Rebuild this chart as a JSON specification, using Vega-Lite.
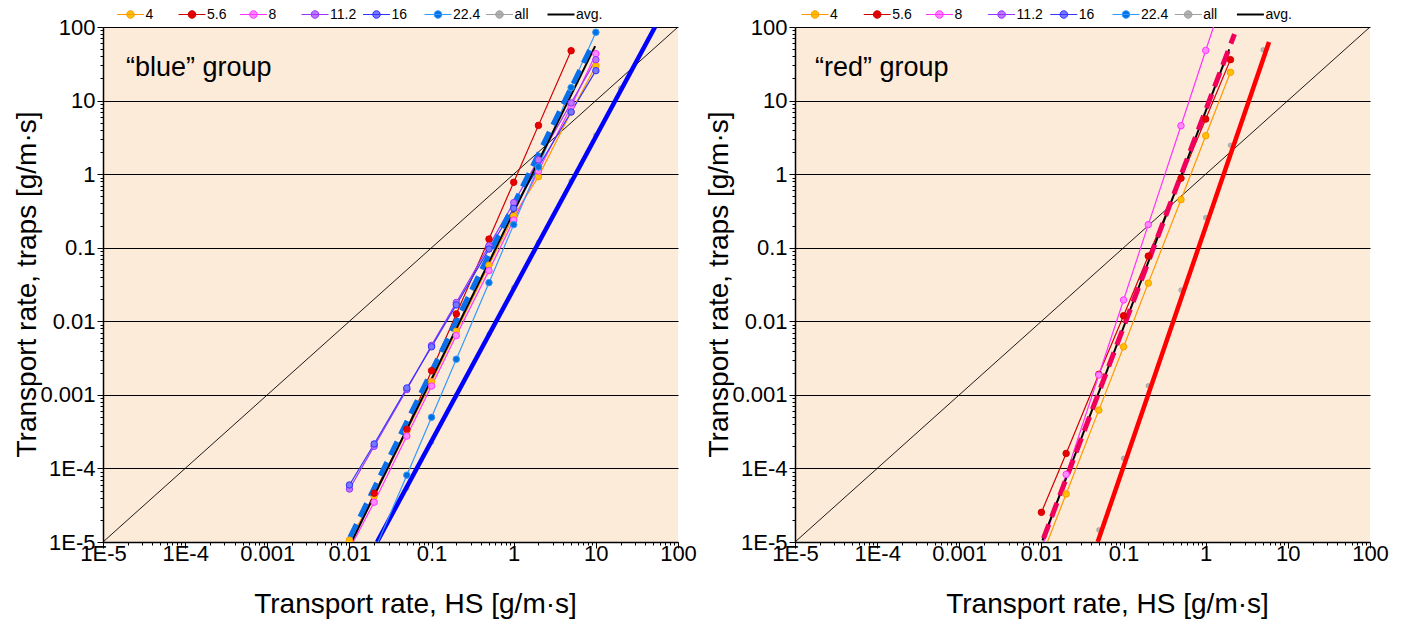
{
  "$schema": "https://vega.github.io/schema/vega-lite/v6.json",
  "padding": {"left": 12, "top": 7, "right": 5, "bottom": 5},
  "bounds": "flush",
  "spacing": 117,
  "background": "white",
  "config": {
    "view": {"fill": "#FDEBDA", "stroke": null},
    "axis": {
      "labelFont": "Liberation Sans", "labelFontSize": 22, "labelColor": "black",
      "titleFont": "Liberation Sans", "titleFontSize": 28, "titleFontWeight": "normal", "titleColor": "black",
      "domainColor": "black", "domainWidth": 1.5, "tickColor": "black", "tickWidth": 1,
      "labelOverlap": false, "labelFlush": false
    },
    "legend": {"labelFont": "Liberation Sans", "labelFontSize": 14, "labelColor": "black"}
  },
  "datasets": {
    "pts": [
      {"panel":"L","kind":"diag","series":"d","x":0.00001,"y":0.00001},
      {"panel":"L","kind":"diag","series":"d","x":100,"y":100},
      {"panel":"R","kind":"diag","series":"d","x":0.00001,"y":0.00001},
      {"panel":"R","kind":"diag","series":"d","x":100,"y":100},

      {"panel":"L","kind":"s","series":"4","x":0.01,"y":0.0000106},
      {"panel":"L","kind":"s","series":"4","x":0.02,"y":0.000042},
      {"panel":"L","kind":"s","series":"4","x":0.05,"y":0.00032},
      {"panel":"L","kind":"s","series":"4","x":0.1,"y":0.00151},
      {"panel":"L","kind":"s","series":"4","x":0.2,"y":0.0073},
      {"panel":"L","kind":"s","series":"4","x":0.5,"y":0.058},
      {"panel":"L","kind":"s","series":"4","x":1,"y":0.27},
      {"panel":"L","kind":"s","series":"4","x":2,"y":0.925},
      {"panel":"L","kind":"s","series":"4","x":5,"y":7.0},
      {"panel":"L","kind":"s","series":"4","x":10,"y":29.8},

      {"panel":"L","kind":"s","series":"5.6","x":0.01,"y":0.0000085},
      {"panel":"L","kind":"s","series":"5.6","x":0.02,"y":0.000046},
      {"panel":"L","kind":"s","series":"5.6","x":0.05,"y":0.00034},
      {"panel":"L","kind":"s","series":"5.6","x":0.1,"y":0.00213},
      {"panel":"L","kind":"s","series":"5.6","x":0.2,"y":0.0126},
      {"panel":"L","kind":"s","series":"5.6","x":0.5,"y":0.131},
      {"panel":"L","kind":"s","series":"5.6","x":1,"y":0.775},
      {"panel":"L","kind":"s","series":"5.6","x":2,"y":4.6},
      {"panel":"L","kind":"s","series":"5.6","x":5,"y":47.6},

      {"panel":"L","kind":"s","series":"8","x":0.01,"y":0.000008},
      {"panel":"L","kind":"s","series":"8","x":0.02,"y":0.0000347},
      {"panel":"L","kind":"s","series":"8","x":0.05,"y":0.000275},
      {"panel":"L","kind":"s","series":"8","x":0.1,"y":0.00132},
      {"panel":"L","kind":"s","series":"8","x":0.2,"y":0.0064},
      {"panel":"L","kind":"s","series":"8","x":0.5,"y":0.0488},
      {"panel":"L","kind":"s","series":"8","x":1,"y":0.238},
      {"panel":"L","kind":"s","series":"8","x":2,"y":1.1},
      {"panel":"L","kind":"s","series":"8","x":5,"y":8.3},
      {"panel":"L","kind":"s","series":"8","x":10,"y":43.4},

      {"panel":"L","kind":"s","series":"11.2","x":0.01,"y":0.0000525},
      {"panel":"L","kind":"s","series":"11.2","x":0.02,"y":0.0002},
      {"panel":"L","kind":"s","series":"11.2","x":0.05,"y":0.00118},
      {"panel":"L","kind":"s","series":"11.2","x":0.1,"y":0.0047},
      {"panel":"L","kind":"s","series":"11.2","x":0.2,"y":0.018},
      {"panel":"L","kind":"s","series":"11.2","x":0.5,"y":0.106},
      {"panel":"L","kind":"s","series":"11.2","x":1,"y":0.41},
      {"panel":"L","kind":"s","series":"11.2","x":2,"y":1.57},
      {"panel":"L","kind":"s","series":"11.2","x":5,"y":9.27},
      {"panel":"L","kind":"s","series":"11.2","x":10,"y":36},

      {"panel":"L","kind":"s","series":"16","x":0.01,"y":0.0000596},
      {"panel":"L","kind":"s","series":"16","x":0.02,"y":0.000215},
      {"panel":"L","kind":"s","series":"16","x":0.05,"y":0.00124},
      {"panel":"L","kind":"s","series":"16","x":0.1,"y":0.0045},
      {"panel":"L","kind":"s","series":"16","x":0.2,"y":0.0167},
      {"panel":"L","kind":"s","series":"16","x":0.5,"y":0.096},
      {"panel":"L","kind":"s","series":"16","x":1,"y":0.343},
      {"panel":"L","kind":"s","series":"16","x":2,"y":1.26},
      {"panel":"L","kind":"s","series":"16","x":5,"y":7.0},
      {"panel":"L","kind":"s","series":"16","x":10,"y":25.5},

      {"panel":"L","kind":"s","series":"22.4","x":0.02,"y":0.0000075},
      {"panel":"L","kind":"s","series":"22.4","x":0.05,"y":0.000081},
      {"panel":"L","kind":"s","series":"22.4","x":0.1,"y":0.000495},
      {"panel":"L","kind":"s","series":"22.4","x":0.2,"y":0.00305},
      {"panel":"L","kind":"s","series":"22.4","x":0.5,"y":0.0335},
      {"panel":"L","kind":"s","series":"22.4","x":1,"y":0.206},
      {"panel":"L","kind":"s","series":"22.4","x":2,"y":1.26},
      {"panel":"L","kind":"s","series":"22.4","x":5,"y":15},
      {"panel":"L","kind":"s","series":"22.4","x":10,"y":84.7},

      {"panel":"L","kind":"all","series":"all","x":0.05,"y":0.000054},
      {"panel":"L","kind":"all","series":"all","x":0.1,"y":0.000227},
      {"panel":"L","kind":"all","series":"all","x":0.2,"y":0.00098},
      {"panel":"L","kind":"all","series":"all","x":0.5,"y":0.0067},
      {"panel":"L","kind":"all","series":"all","x":1,"y":0.0286},
      {"panel":"L","kind":"all","series":"all","x":2,"y":0.118},
      {"panel":"L","kind":"all","series":"all","x":5,"y":0.81},
      {"panel":"L","kind":"all","series":"all","x":10,"y":3.4},
      {"panel":"L","kind":"all","series":"all","x":20,"y":14.7},

      {"panel":"L","kind":"fit","series":"fit","x":0.0217,"y":0.00001},
      {"panel":"L","kind":"fit","series":"fit","x":52.5,"y":100},
      {"panel":"L","kind":"dash","series":"dash","x":0.0101,"y":0.0000115},
      {"panel":"L","kind":"dash","series":"dash","x":8.4,"y":48.6},
      {"panel":"L","kind":"avg","series":"avg.","x":0.0108,"y":0.0000105},
      {"panel":"L","kind":"avg","series":"avg.","x":9.8,"y":55},

      {"panel":"R","kind":"s","series":"4","x":0.01,"y":0.0000062},
      {"panel":"R","kind":"s","series":"4","x":0.02,"y":0.000045},
      {"panel":"R","kind":"s","series":"4","x":0.05,"y":0.00062},
      {"panel":"R","kind":"s","series":"4","x":0.1,"y":0.0045},
      {"panel":"R","kind":"s","series":"4","x":0.2,"y":0.033},
      {"panel":"R","kind":"s","series":"4","x":0.5,"y":0.45},
      {"panel":"R","kind":"s","series":"4","x":1,"y":3.33},
      {"panel":"R","kind":"s","series":"4","x":2,"y":24.2},

      {"panel":"R","kind":"s","series":"5.6","x":0.01,"y":0.0000253},
      {"panel":"R","kind":"s","series":"5.6","x":0.02,"y":0.00016},
      {"panel":"R","kind":"s","series":"5.6","x":0.05,"y":0.0019},
      {"panel":"R","kind":"s","series":"5.6","x":0.1,"y":0.0119},
      {"panel":"R","kind":"s","series":"5.6","x":0.2,"y":0.077},
      {"panel":"R","kind":"s","series":"5.6","x":0.5,"y":0.88},
      {"panel":"R","kind":"s","series":"5.6","x":1,"y":5.6},
      {"panel":"R","kind":"s","series":"5.6","x":2,"y":36},

      {"panel":"R","kind":"s","series":"8","x":0.01,"y":0.000008},
      {"panel":"R","kind":"s","series":"8","x":0.02,"y":0.000083},
      {"panel":"R","kind":"s","series":"8","x":0.05,"y":0.00186},
      {"panel":"R","kind":"s","series":"8","x":0.1,"y":0.0195},
      {"panel":"R","kind":"s","series":"8","x":0.2,"y":0.206},
      {"panel":"R","kind":"s","series":"8","x":0.5,"y":4.55},
      {"panel":"R","kind":"s","series":"8","x":1,"y":48},
      {"panel":"R","kind":"s","series":"8","x":2,"y":500},

      {"panel":"R","kind":"all","series":"all","x":0.05,"y":0.0000146},
      {"panel":"R","kind":"all","series":"all","x":0.1,"y":0.000137},
      {"panel":"R","kind":"all","series":"all","x":0.2,"y":0.00133},
      {"panel":"R","kind":"all","series":"all","x":0.5,"y":0.0266},
      {"panel":"R","kind":"all","series":"all","x":1,"y":0.256},
      {"panel":"R","kind":"all","series":"all","x":2,"y":2.47},
      {"panel":"R","kind":"all","series":"all","x":5,"y":49},

      {"panel":"R","kind":"fit","series":"fit","x":0.0484,"y":0.00001},
      {"panel":"R","kind":"fit","series":"fit","x":5.9,"y":62.5},
      {"panel":"R","kind":"dash","series":"dash","x":0.0106,"y":0.0000112},
      {"panel":"R","kind":"dash","series":"dash","x":2.24,"y":80},
      {"panel":"R","kind":"avg","series":"avg.","x":0.0103,"y":0.0000105},
      {"panel":"R","kind":"avg","series":"avg.","x":1.93,"y":49.7}
    ],
    "notes": [
      {"panel":"L","x":0.000019,"y":27.7,"text":"“blue” group"},
      {"panel":"R","x":0.0000175,"y":27.7,"text":"“red” group"}
    ]
  },
  "resolve": {"legend": {"stroke": "independent", "fill": "independent"}},
  "hconcat": [
    {
      "width": 575, "height": 515,
      "data": {"name": "pts"},
      "encoding": {
        "x": {"field": "x", "type": "quantitative", "title": "Transport rate, HS [g/m·s]",
          "scale": {"type": "log", "domain": [0.00001, 100], "nice": false},
          "axis": {
            "values": [0.00001,0.00002,0.00003,0.00004,0.00005,0.00006,0.00007,0.00008,0.00009,0.0001,0.0002,0.0003,0.0004,0.0005,0.0006,0.0007,0.0008,0.0009,0.001,0.002,0.003,0.004,0.005,0.006,0.007,0.008,0.009,0.01,0.02,0.03,0.04,0.05,0.06,0.07,0.08,0.09,0.1,0.2,0.3,0.4,0.5,0.6,0.7,0.8,0.9,1,2,3,4,5,6,7,8,9,10,20,30,40,50,60,70,80,90,100],
            "labelExpr": "datum.value == 0.00001 ? '1E-5' : datum.value == 0.0001 ? '1E-4' : datum.value == 0.001 ? '0.001' : datum.value == 0.01 ? '0.01' : datum.value == 0.1 ? '0.1' : datum.value == 1 ? '1' : datum.value == 10 ? '10' : datum.value == 100 ? '100' : ''",
            "grid": false,
            "tickSize": {"condition": {"test": "indexof([0.00001,0.0001,0.001,0.01,0.1,1,10,100], datum.value) >= 0", "value": 6}, "value": 3},
            "labelPadding": -5,
            "titleX": 312, "titleY": 70, "titleBaseline": "alphabetic"
          }
        },
        "y": {"field": "y", "type": "quantitative", "title": "Transport rate, traps [g/m·s]",
          "scale": {"type": "log", "domain": [0.00001, 100], "nice": false},
          "axis": {
            "values": [0.00001,0.00002,0.00003,0.00004,0.00005,0.00006,0.00007,0.00008,0.00009,0.0001,0.0002,0.0003,0.0004,0.0005,0.0006,0.0007,0.0008,0.0009,0.001,0.002,0.003,0.004,0.005,0.006,0.007,0.008,0.009,0.01,0.02,0.03,0.04,0.05,0.06,0.07,0.08,0.09,0.1,0.2,0.3,0.4,0.5,0.6,0.7,0.8,0.9,1,2,3,4,5,6,7,8,9,10,20,30,40,50,60,70,80,90,100],
            "labelExpr": "datum.value == 0.00001 ? '1E-5' : datum.value == 0.0001 ? '1E-4' : datum.value == 0.001 ? '0.001' : datum.value == 0.01 ? '0.01' : datum.value == 0.1 ? '0.1' : datum.value == 1 ? '1' : datum.value == 10 ? '10' : datum.value == 100 ? '100' : ''",
            "grid": true, "gridColor": "black", "gridWidth": 1,
            "gridOpacity": {"condition": {"test": "indexof([0.00001,0.0001,0.001,0.01,0.1,1,10,100], datum.value) >= 0", "value": 1}, "value": 0},
            "tickSize": {"condition": {"test": "indexof([0.00001,0.0001,0.001,0.01,0.1,1,10,100], datum.value) >= 0", "value": 6}, "value": 3},
            "labelPadding": 2,
            "titleX": -68, "titleY": 257, "titleAngle": -90, "titleAlign": "center", "titleBaseline": "alphabetic"
          }
        }
      },
      "layer": [
        {"transform": [{"filter": "datum.panel == 'L' && datum.kind == 'diag'"}],
         "mark": {"type": "line", "color": "black", "strokeWidth": 0.9, "clip": true}},
        {"transform": [{"filter": "datum.panel == 'L' && datum.kind == 'all'"}],
         "mark": {"type": "point", "shape": "circle", "filled": true, "size": 22, "fill": "#B4B4B4", "stroke": "#909090", "strokeWidth": 0.5, "opacity": 1, "clip": true}},
        {"transform": [{"filter": "datum.panel == 'L' && datum.kind == 'fit'"}],
         "mark": {"type": "line", "color": "#0000FF", "strokeWidth": 4.5, "clip": true}},
        {"transform": [{"filter": "datum.panel == 'L' && datum.kind == 's'"}],
         "mark": {"type": "line", "strokeWidth": 1.2, "clip": true},
         "encoding": {
           "stroke": {"field": "series", "type": "nominal",
             "scale": {"domain": ["4","5.6","8","11.2","16","22.4","all","avg."], "range": ["#FF9900","#D00000","#FF33FF","#9933FF","#3333FF","#3399FF","#A0A0A0","#000000"]},
             "legend": {"orient": "none", "legendX": 20.5, "legendY": -19.5, "direction": "horizontal", "columns": 8, "gridAlign": "all", "title": null, "padding": 0, "columnPadding": 0.5, "rowPadding": 0,
               "symbolType": "M-1,0L1,0M0.28,0A0.28,0.28,0,1,1,-0.28,0A0.28,0.28,0,1,1,0.28,0", "symbolSize": 729, "symbolStrokeWidth": 1, "labelOffset": 8,
               "encode": {"symbols": {"update": {"shape": {"signal": "datum.value === 'avg.' ? 'M-1,0L1,0' : 'M-1,0L1,0M0.28,0A0.28,0.28,0,1,1,-0.28,0A0.28,0.28,0,1,1,0.28,0'"}, "strokeWidth": {"signal": "datum.value === 'avg.' ? 2 : 1"}}}}}
           }
         }},
        {"transform": [{"filter": "datum.panel == 'L' && datum.kind == 'avg'"}],
         "mark": {"type": "line", "strokeWidth": 2, "clip": true},
         "encoding": {
           "stroke": {"field": "series", "type": "nominal",
             "scale": {"domain": ["4","5.6","8","11.2","16","22.4","all","avg."], "range": ["#FF9900","#D00000","#FF33FF","#9933FF","#3333FF","#3399FF","#A0A0A0","#000000"]}}
         }},
        {"transform": [{"filter": "datum.panel == 'L' && datum.kind == 'dash'"}],
         "mark": {"type": "line", "color": "#0A6FEA", "strokeWidth": 5, "strokeDash": [15, 8], "clip": true}},
        {"transform": [{"filter": "datum.panel == 'L' && datum.kind == 's'"}],
         "mark": {"type": "point", "shape": "circle", "filled": true, "size": 42, "strokeWidth": 1, "opacity": 1, "clip": true},
         "encoding": {
           "stroke": {"field": "series", "type": "nominal",
             "scale": {"domain": ["4","5.6","8","11.2","16","22.4","all","avg."], "range": ["#FF9900","#D00000","#FF33FF","#9933FF","#3333FF","#3399FF","#A0A0A0","#000000"]}},
           "fill": {"field": "series", "type": "nominal",
             "scale": {"domain": ["4","5.6","8","11.2","16","22.4","all","avg."], "range": ["#FFC000","#E80000","#FF88FF","#BB77FF","#7777FF","#0070E0","#B0B0B0","#000000"]},
             "legend": {"orient": "none", "legendX": 20.5, "legendY": -19.5, "direction": "horizontal", "columns": 8, "gridAlign": "all", "title": null, "padding": 0, "columnPadding": 0.5, "rowPadding": 0,
               "symbolType": "M-1,0L1,0M0.28,0A0.28,0.28,0,1,1,-0.28,0A0.28,0.28,0,1,1,0.28,0", "symbolSize": 729, "symbolStrokeWidth": 1, "labelOffset": 8,
               "encode": {"symbols": {"update": {"shape": {"signal": "datum.value === 'avg.' ? 'M-1,0L1,0' : 'M-1,0L1,0M0.28,0A0.28,0.28,0,1,1,-0.28,0A0.28,0.28,0,1,1,0.28,0'"}, "strokeWidth": {"signal": "datum.value === 'avg.' ? 2 : 1"}}}}}
           }
         }},
        {"data": {"name": "notes"},
         "transform": [{"filter": "datum.panel == 'L'"}],
         "mark": {"type": "text", "align": "left", "baseline": "middle", "font": "Liberation Sans", "fontSize": 27, "color": "black"},
         "encoding": {"text": {"field": "text"}}}
      ]
    },
    {
      "width": 575, "height": 515,
      "data": {"name": "pts"},
      "encoding": {
        "x": {"field": "x", "type": "quantitative", "title": "Transport rate, HS [g/m·s]",
          "scale": {"type": "log", "domain": [0.00001, 100], "nice": false},
          "axis": {
            "values": [0.00001,0.00002,0.00003,0.00004,0.00005,0.00006,0.00007,0.00008,0.00009,0.0001,0.0002,0.0003,0.0004,0.0005,0.0006,0.0007,0.0008,0.0009,0.001,0.002,0.003,0.004,0.005,0.006,0.007,0.008,0.009,0.01,0.02,0.03,0.04,0.05,0.06,0.07,0.08,0.09,0.1,0.2,0.3,0.4,0.5,0.6,0.7,0.8,0.9,1,2,3,4,5,6,7,8,9,10,20,30,40,50,60,70,80,90,100],
            "labelExpr": "datum.value == 0.00001 ? '1E-5' : datum.value == 0.0001 ? '1E-4' : datum.value == 0.001 ? '0.001' : datum.value == 0.01 ? '0.01' : datum.value == 0.1 ? '0.1' : datum.value == 1 ? '1' : datum.value == 10 ? '10' : datum.value == 100 ? '100' : ''",
            "grid": false,
            "tickSize": {"condition": {"test": "indexof([0.00001,0.0001,0.001,0.01,0.1,1,10,100], datum.value) >= 0", "value": 6}, "value": 3},
            "labelPadding": -5,
            "titleX": 312, "titleY": 70, "titleBaseline": "alphabetic"
          }
        },
        "y": {"field": "y", "type": "quantitative", "title": "Transport rate, traps [g/m·s]",
          "scale": {"type": "log", "domain": [0.00001, 100], "nice": false},
          "axis": {
            "values": [0.00001,0.00002,0.00003,0.00004,0.00005,0.00006,0.00007,0.00008,0.00009,0.0001,0.0002,0.0003,0.0004,0.0005,0.0006,0.0007,0.0008,0.0009,0.001,0.002,0.003,0.004,0.005,0.006,0.007,0.008,0.009,0.01,0.02,0.03,0.04,0.05,0.06,0.07,0.08,0.09,0.1,0.2,0.3,0.4,0.5,0.6,0.7,0.8,0.9,1,2,3,4,5,6,7,8,9,10,20,30,40,50,60,70,80,90,100],
            "labelExpr": "datum.value == 0.00001 ? '1E-5' : datum.value == 0.0001 ? '1E-4' : datum.value == 0.001 ? '0.001' : datum.value == 0.01 ? '0.01' : datum.value == 0.1 ? '0.1' : datum.value == 1 ? '1' : datum.value == 10 ? '10' : datum.value == 100 ? '100' : ''",
            "grid": true, "gridColor": "black", "gridWidth": 1,
            "gridOpacity": {"condition": {"test": "indexof([0.00001,0.0001,0.001,0.01,0.1,1,10,100], datum.value) >= 0", "value": 1}, "value": 0},
            "tickSize": {"condition": {"test": "indexof([0.00001,0.0001,0.001,0.01,0.1,1,10,100], datum.value) >= 0", "value": 6}, "value": 3},
            "labelPadding": 2,
            "titleX": -68, "titleY": 257, "titleAngle": -90, "titleAlign": "center", "titleBaseline": "alphabetic"
          }
        }
      },
      "layer": [
        {"transform": [{"filter": "datum.panel == 'R' && datum.kind == 'diag'"}],
         "mark": {"type": "line", "color": "black", "strokeWidth": 0.9, "clip": true}},
        {"transform": [{"filter": "datum.panel == 'R' && datum.kind == 'all'"}],
         "mark": {"type": "point", "shape": "circle", "filled": true, "size": 22, "fill": "#B4B4B4", "stroke": "#909090", "strokeWidth": 0.5, "opacity": 1, "clip": true}},
        {"transform": [{"filter": "datum.panel == 'R' && datum.kind == 'fit'"}],
         "mark": {"type": "line", "color": "#FF0000", "strokeWidth": 4.5, "clip": true}},
        {"transform": [{"filter": "datum.panel == 'R' && datum.kind == 's'"}],
         "mark": {"type": "line", "strokeWidth": 1.2, "clip": true},
         "encoding": {
           "stroke": {"field": "series", "type": "nominal",
             "scale": {"domain": ["4","5.6","8","11.2","16","22.4","all","avg."], "range": ["#FF9900","#D00000","#FF33FF","#9933FF","#3333FF","#3399FF","#A0A0A0","#000000"]},
             "legend": {"orient": "none", "legendX": 13, "legendY": -19.5, "direction": "horizontal", "columns": 8, "gridAlign": "all", "title": null, "padding": 0, "columnPadding": 1.2, "rowPadding": 0,
               "symbolType": "M-1,0L1,0M0.28,0A0.28,0.28,0,1,1,-0.28,0A0.28,0.28,0,1,1,0.28,0", "symbolSize": 729, "symbolStrokeWidth": 1, "labelOffset": 8,
               "encode": {"symbols": {"update": {"shape": {"signal": "datum.value === 'avg.' ? 'M-1,0L1,0' : 'M-1,0L1,0M0.28,0A0.28,0.28,0,1,1,-0.28,0A0.28,0.28,0,1,1,0.28,0'"}, "strokeWidth": {"signal": "datum.value === 'avg.' ? 2 : 1"}}}}}
           }
         }},
        {"transform": [{"filter": "datum.panel == 'R' && datum.kind == 'avg'"}],
         "mark": {"type": "line", "strokeWidth": 2, "clip": true},
         "encoding": {
           "stroke": {"field": "series", "type": "nominal",
             "scale": {"domain": ["4","5.6","8","11.2","16","22.4","all","avg."], "range": ["#FF9900","#D00000","#FF33FF","#9933FF","#3333FF","#3399FF","#A0A0A0","#000000"]}}
         }},
        {"transform": [{"filter": "datum.panel == 'R' && datum.kind == 'dash'"}],
         "mark": {"type": "line", "color": "#F0005A", "strokeWidth": 5, "strokeDash": [15, 8], "clip": true}},
        {"transform": [{"filter": "datum.panel == 'R' && datum.kind == 's'"}],
         "mark": {"type": "point", "shape": "circle", "filled": true, "size": 42, "strokeWidth": 1, "opacity": 1, "clip": true},
         "encoding": {
           "stroke": {"field": "series", "type": "nominal",
             "scale": {"domain": ["4","5.6","8","11.2","16","22.4","all","avg."], "range": ["#FF9900","#D00000","#FF33FF","#9933FF","#3333FF","#3399FF","#A0A0A0","#000000"]}},
           "fill": {"field": "series", "type": "nominal",
             "scale": {"domain": ["4","5.6","8","11.2","16","22.4","all","avg."], "range": ["#FFC000","#E80000","#FF88FF","#BB77FF","#7777FF","#0070E0","#B0B0B0","#000000"]},
             "legend": {"orient": "none", "legendX": 13, "legendY": -19.5, "direction": "horizontal", "columns": 8, "gridAlign": "all", "title": null, "padding": 0, "columnPadding": 1.2, "rowPadding": 0,
               "symbolType": "M-1,0L1,0M0.28,0A0.28,0.28,0,1,1,-0.28,0A0.28,0.28,0,1,1,0.28,0", "symbolSize": 729, "symbolStrokeWidth": 1, "labelOffset": 8,
               "encode": {"symbols": {"update": {"shape": {"signal": "datum.value === 'avg.' ? 'M-1,0L1,0' : 'M-1,0L1,0M0.28,0A0.28,0.28,0,1,1,-0.28,0A0.28,0.28,0,1,1,0.28,0'"}, "strokeWidth": {"signal": "datum.value === 'avg.' ? 2 : 1"}}}}}
           }
         }},
        {"data": {"name": "notes"},
         "transform": [{"filter": "datum.panel == 'R'"}],
         "mark": {"type": "text", "align": "left", "baseline": "middle", "font": "Liberation Sans", "fontSize": 27, "color": "black"},
         "encoding": {"text": {"field": "text"}}}
      ]
    }
  ]
}
